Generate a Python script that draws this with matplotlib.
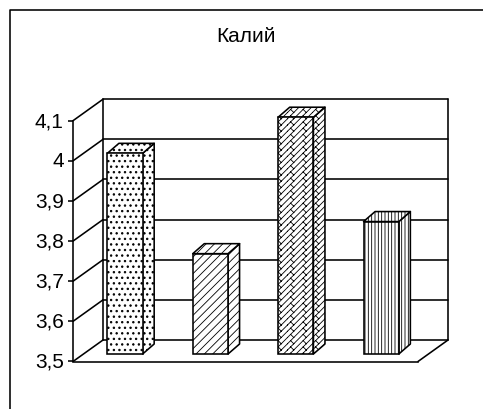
import matplotlib
matplotlib.use("Agg")
import matplotlib.pyplot as plt
import matplotlib.hatch as mhatch
import numpy as np
from matplotlib.lines import Line2D
from matplotlib.patches import Polygon
from matplotlib.path import Path
from matplotlib.transforms import ScaledTranslation

plt.rcParams['font.family'] = ['Liberation Sans', 'DejaVu Sans']
plt.rcParams['hatch.linewidth'] = 0.6

title = "Калий"
values = [4.0, 3.75, 4.09, 3.83]
hatches = ['...', '////', '*', '|||||']
ticks = [3.5, 3.6, 3.7, 3.8, 3.9, 4.0, 4.1]
tick_labels = ['3,5', '3,6', '3,7', '3,8', '3,9', '4', '4,1']

W, H = 483, 409
LW = 1.15

# depth of the fake 3d box, in data units
wall_dx, wall_dy = 0.351, 0.0535
bar_dx, bar_dy = 0.135, 0.0249
shift_x, shift_y = 0.109, 0.0187
bar_w = 0.413

# dot size for the '.' hatch
mhatch.SmallFilledCircles.size = 0.14


# matplotlib has no tilted brick hatch, so '*' is swapped for one
class BrickHatch(mhatch.HatchPatternBase):
    def __init__(self, hatch, density):
        self.n = hatch.count('*') * 16
        self.num_vertices = self.n * self.n * 2 + (self.n // 2) * self.n * 2
        self.num_lines = self.n

    def set_vertices_and_codes(self, vertices, codes):
        segs = []
        for c in range(self.n):
            for r in range(self.n):
                segs.append([(c, r), (c + 1, r + 1)])
                if c % 2 == 0:
                    segs.append([(c + 0.5, r + 0.5), (c + 1, r)])
        pts = np.array(segs, dtype=float).reshape(-1, 2) / self.n
        vertices[:len(pts)] = pts
        codes[:len(pts)] = np.tile([Path.MOVETO, Path.LINETO], len(pts) // 2)


mhatch._hatch_types[:] = [t for t in mhatch._hatch_types if t is not mhatch.Stars] + [BrickHatch]

fig = plt.figure(figsize=(W / 100, H / 100), dpi=100, facecolor='white')
ax = fig.add_axes([73 / W, 1 - 361.5 / H, 345 / W, 240.8 / H])
ax.set_xlim(-0.5, 3.54)
ax.set_ylim(3.5, 4.1)
ax.patch.set_visible(False)

for s in ['top', 'right']:
    ax.spines[s].set_visible(False)
for s in ['left', 'bottom']:
    ax.spines[s].set_linewidth(LW)
ax.set_xticks([])
ax.set_yticks(ticks)
ax.set_yticklabels(tick_labels, fontsize=15)
ax.tick_params(axis='y', length=3.6, width=LW, pad=3)
for lab in ax.get_yticklabels():
    lab.set_transform(lab.get_transform() + ScaledTranslation(0, 1 / 100, fig.dpi_scale_trans))

x0, x1 = ax.get_xlim()
line_kw = dict(color='black', lw=LW, clip_on=False, zorder=1, solid_capstyle='round')

# walls and grid
for t in ticks:
    ax.plot([x0, x0 + wall_dx], [t, t + wall_dy], **line_kw)
    ax.plot([x0 + wall_dx, x1 + wall_dx], [t + wall_dy, t + wall_dy], **line_kw)
for xx in [x0 + wall_dx, x1 + wall_dx]:
    ax.plot([xx, xx], [3.5 + wall_dy, 4.1 + wall_dy], **line_kw)
ax.plot([x1, x1 + wall_dx], [3.5, 3.5 + wall_dy], **line_kw)

# bars
for i, v in enumerate(values):
    left = i - bar_w / 2 + shift_x
    right = left + bar_w
    base = 3.5 + shift_y
    top = base + (v - 3.5)
    face = dict(facecolor='white', edgecolor='black', lw=LW, hatch=hatches[i],
                clip_on=False, zorder=3, joinstyle='round')
    ax.add_patch(Polygon([(right, base), (right + bar_dx, base + bar_dy),
                          (right + bar_dx, top + bar_dy), (right, top)], **face))
    ax.add_patch(Polygon([(left, top), (right, top), (right + bar_dx, top + bar_dy),
                          (left + bar_dx, top + bar_dy)], **face))
    ax.bar(i + shift_x, v - 3.5, width=bar_w, bottom=base, clip_on=False, zorder=4,
           color='white', edgecolor='black', lw=LW, hatch=hatches[i])

fig.text(246 / W, 1 - 36 / H, title, fontsize=15, ha='center', va='center')

# outer frame
fig.add_artist(Line2D([10 / W, 10 / W, 1], [0, 1 - 10 / H, 1 - 10 / H], color='black', lw=LW))

fig.savefig('out.png', dpi=100)
